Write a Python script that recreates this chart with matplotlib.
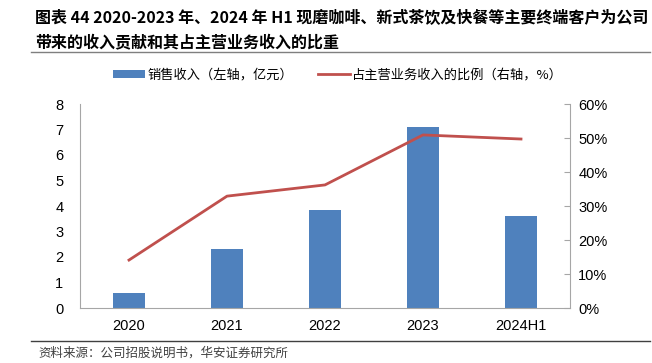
import matplotlib
matplotlib.use("Agg")
import matplotlib.pyplot as plt
from matplotlib.ticker import PercentFormatter

plt.rcParams['font.family'] = ['Liberation Sans', 'Noto Sans CJK SC', 'DejaVu Sans']

# data
years = ['2020', '2021', '2022', '2023', '2024H1']
revenue = [0.6, 2.31, 3.84, 7.1, 3.6]          # 亿元, left axis
share = [14.1, 32.9, 36.2, 50.9, 49.7]         # %, right axis

title_lines = ['图表 44 2020-2023 年、2024 年 H1 现磨咖啡、新式茶饮及快餐等主要终端客户为公司',
               '带来的收入贡献和其占主营业务收入的比重']
source = '资料来源：公司招股说明书，华安证券研究所'

blue = '#4f81bd'
red = '#c0504d'
grey = '#a6a6a6'
cjk = ['Noto Sans CJK SC', 'DejaVu Sans']

fig = plt.figure(figsize=(6.52, 3.63), dpi=100)
ax = fig.add_axes([80 / 652, 55 / 363, 490 / 652, 204 / 363])
ax2 = ax.twinx()

x = range(len(years))
bars = ax.bar(x, revenue, width=0.33, color=blue, label='销售收入（左轴，亿元）', zorder=2)
line, = ax2.plot(x, share, color=red, lw=2, label='占主营业务收入的比例（右轴，%）', zorder=3)

ax.set_xlim(-0.5, 4.5)
ax.set_ylim(0, 8)
ax.set_yticks(range(0, 9))
ax2.set_ylim(0, 60)
ax2.set_yticks(range(0, 61, 10))
ax2.yaxis.set_major_formatter(PercentFormatter(decimals=0))
ax.set_xticks(list(x))
ax.set_xticklabels(years)

for a in (ax, ax2):
    for s in a.spines.values():
        s.set_visible(False)
    a.tick_params(labelsize=10.5, colors='black')
ax.spines['left'].set_visible(True)
ax.spines['left'].set_color(grey)
ax.spines['bottom'].set_visible(True)
ax.spines['bottom'].set_color(grey)
ax2.spines['right'].set_visible(True)
ax2.spines['right'].set_color(grey)
ax.tick_params(axis='y', length=0, pad=12)
ax.tick_params(axis='x', length=0, pad=8)
ax2.tick_params(axis='y', direction='in', length=4, color=grey, pad=6)

fig.legend([bars, line], [bars.get_label(), line.get_label()], loc='center',
           bbox_to_anchor=(338 / 652, 1 - 75 / 363), ncol=2, frameon=False,
           prop={'family': cjk, 'size': 9.5}, handlelength=2.4, handletextpad=0.2,
           columnspacing=1.9, handleheight=0.5)

fig.text(35 / 652, 1 - 18 / 363, title_lines[0], family=cjk, weight='bold', size=11.5, va='center')
fig.text(35 / 652, 1 - 42 / 363, title_lines[1], family=cjk, weight='bold', size=11.5, va='center')
fig.add_artist(plt.Line2D([31 / 652, 650 / 652], [1 - 52 / 363] * 2, color='#7f7f7f', lw=1))
fig.add_artist(plt.Line2D([31 / 652, 650 / 652], [1 - 341 / 363] * 2, color='#404040', lw=1))
fig.text(38 / 652, 1 - 353 / 363, source, family=cjk, size=9, va='center', color='#404040')

fig.savefig('out.png', dpi=100)
